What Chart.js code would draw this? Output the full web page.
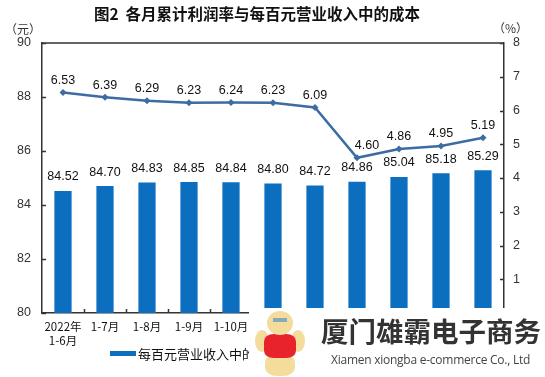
<!DOCTYPE html>
<html>
<head>
<meta charset="utf-8">
<script src="https://cdn.jsdelivr.net/npm/chart.js@4.4.1/dist/chart.umd.min.js"></script>
<style>
  html, body { margin: 0; padding: 0; background: #fff; }
  #wrap { position: relative; width: 545px; height: 377px; overflow: hidden; }
  #legend { position: absolute; left: 110px; top: 341px; font: 13px "Noto Sans CJK SC", sans-serif; color: #111; white-space: nowrap; }
  #legend .item { display: inline-flex; align-items: center; margin-right: 22px; }
  #legend .sw { display: inline-block; width: 26px; height: 5px; margin-right: 2px; }
  #mark { position: absolute; left: 249px; top: 308px; width: 296px; height: 69px; background: #fff; }
  #mark .cn { position: absolute; left: 72px; top: 2px; font: bold 27.5px "Noto Sans CJK SC", sans-serif; color: #333; white-space: nowrap; }
  #mark .en { position: absolute; left: 82px; top: 43px; font: 12px "Open Sans", sans-serif; letter-spacing: -0.25px; color: #444; white-space: nowrap; }
  .b { position: absolute; }
</style>
</head>
<body>
<div id="wrap">
  <canvas id="c" width="545" height="377"></canvas>
  <div id="legend"></div>
  <div id="mark">
    <div class="b" style="left:6px;top:22px;width:14px;height:22px;border-radius:50%;background:#f3dc9c;"></div>
    <div class="b" style="left:42px;top:22px;width:14px;height:22px;border-radius:50%;background:#f3dc9c;"></div>
    <div class="b" style="left:16px;top:46px;width:30px;height:22px;border-radius:40%;background:#f3dc9c;"></div>
    <div class="b" style="left:15px;top:26px;width:32px;height:24px;border-radius:30%;background:#e8232b;"></div>
    <div class="b" style="left:18px;top:3px;width:26px;height:24px;border-radius:50%;background:#f3dc9c;"></div>
    <div class="b" style="left:24px;top:10px;width:14px;height:4px;background:#8ab;"></div>
    <div class="cn">厦门雄霸电子商务</div>
    <div class="en">Xiamen xiongba e-commerce Co., Ltd</div>
  </div>
</div>
<script>
// months (cumulative periods)
const periods = [
  ['2022年', '1-6月'], '1-7月', '1-8月', '1-9月', '1-10月', '1-11月', '1-12月',
  ['2023年', '1-2月'], '1-3月', '1-4月', '1-5月'
];
// cost per 100 yuan of operating income (yuan)
const costPer100 = [84.52, 84.70, 84.83, 84.85, 84.84, 84.80, 84.72, 84.86, 85.04, 85.18, 85.29];
// cumulative operating income profit rate (%)
const profitRate = [6.53, 6.39, 6.29, 6.23, 6.24, 6.23, 6.09, 4.60, 4.86, 4.95, 5.19];

const titleText = '图2  各月累计利润率与每百元营业收入中的成本';
const leftUnit = '（元）';
const rightUnit = '（%）';
const seriesNames = ['每百元营业收入中的成本', '营业收入利润率（右轴）'];

const BAR_BLUE = '#0c6ebf';
const LINE_BLUE = '#3d6ca3';
const NUM_FONT = '12.5px "Liberation Sans", Arial, sans-serif';

// title, units, top frame line and inward tick marks
const decorations = {
  id: 'decorations',
  afterDraw(chart) {
    const { ctx, chartArea: a, scales } = chart;
    ctx.save();
    ctx.fillStyle = '#111';
    ctx.textBaseline = 'middle';
    ctx.textAlign = 'center';
    ctx.font = 'bold 15.5px "Noto Sans CJK SC", sans-serif';
    ctx.fillText(titleText, 257, 14);

    ctx.font = '12px "Noto Sans CJK SC", sans-serif';
    ctx.fillStyle = '#333';
    ctx.textAlign = 'left';
    ctx.fillText(leftUnit, 5, 29);
    ctx.fillText(rightUnit, 493, 28);

    ctx.strokeStyle = '#333';
    ctx.lineWidth = 1.5;
    ctx.beginPath();
    ctx.moveTo(a.left, a.top);
    ctx.lineTo(a.right, a.top);
    // left axis ticks
    scales.y.ticks.forEach(t => {
      const y = Math.round(scales.y.getPixelForValue(t.value)) + 0.5;
      ctx.moveTo(a.left, y); ctx.lineTo(a.left + 4, y);
    });
    // right axis ticks
    scales.y1.ticks.forEach(t => {
      const y = Math.round(scales.y1.getPixelForValue(t.value)) + 0.5;
      ctx.moveTo(a.right, y); ctx.lineTo(a.right - 4, y);
    });
    // category boundary ticks on x axis
    for (let i = 1; i < periods.length; i++) {
      const x = Math.round((scales.x.getPixelForValue(i - 1) + scales.x.getPixelForValue(i)) / 2) + 0.5;
      ctx.moveTo(x, a.bottom); ctx.lineTo(x, a.bottom - 4);
    }
    ctx.stroke();
    ctx.restore();
  }
};

// value labels above bars and points
const valueLabels = {
  id: 'valueLabels',
  afterDatasetsDraw(chart) {
    const ctx = chart.ctx;
    ctx.save();
    ctx.font = NUM_FONT;
    ctx.fillStyle = '#111';
    ctx.textAlign = 'center';
    ctx.textBaseline = 'middle';
    chart.data.datasets.forEach((ds, i) => {
      const meta = chart.getDatasetMeta(i);
      meta.data.forEach((el, j) => {
        let dx = 0;
        if (ds.type === 'line' && j > 0 && ds.data[j - 1] - ds.data[j] > 1) dx = 10;
        const dy = ds.type === 'bar' ? 14 : 12;
        ctx.fillText(ds.data[j].toFixed(2), el.x + dx, el.y - dy);
      });
    });
    ctx.restore();
  }
};

new Chart(document.getElementById('c'), {
  data: {
    labels: periods,
    datasets: [
      {
        type: 'bar',
        label: seriesNames[0],
        data: costPer100,
        yAxisID: 'y',
        backgroundColor: BAR_BLUE,
        barPercentage: 0.41,
        categoryPercentage: 1,
        order: 2
      },
      {
        type: 'line',
        label: seriesNames[1],
        data: profitRate,
        yAxisID: 'y1',
        borderColor: LINE_BLUE,
        backgroundColor: LINE_BLUE,
        borderWidth: 2.5,
        pointStyle: 'rectRot',
        pointRadius: 3.5,
        pointBorderWidth: 0,
        tension: 0,
        order: 1
      }
    ]
  },
  options: {
    responsive: false,
    animation: false,
    layout: { padding: { top: 43, bottom: 24, left: 0, right: 0 } },
    plugins: {
      legend: { display: false },
      tooltip: { enabled: false },
      title: { display: false }
    },
    scales: {
      x: {
        offset: true,
        grid: { drawOnChartArea: false, drawTicks: false },
        border: { display: true, color: '#333', width: 1.5 },
        ticks: {
          maxRotation: 0, autoSkip: false, padding: 7, color: '#111',
          font: { family: '"Noto Sans CJK SC", sans-serif', size: 11.5 }
        },
        afterFit(s) { s.height = 40; }
      },
      y: {
        position: 'left',
        min: 80, max: 90,
        grid: { drawOnChartArea: false, drawTicks: false },
        border: { display: true, color: '#333', width: 1.5 },
        ticks: { stepSize: 2, padding: 11, color: '#333', font: { family: '"Liberation Sans", Arial, sans-serif', size: 12.5 } },
        afterFit(s) { s.width = 42; }
      },
      y1: {
        position: 'right',
        min: 0, max: 8,
        grid: { drawOnChartArea: false, drawTicks: false },
        border: { display: true, color: '#333', width: 1.5 },
        ticks: {
          stepSize: 1, padding: 9, color: '#333',
          font: { family: '"Liberation Sans", Arial, sans-serif', size: 12.5 },
          callback: v => (v === 0 ? '' : v)
        },
        afterFit(s) { s.width = 41; }
      }
    }
  },
  plugins: [decorations, valueLabels]
});

// html legend from the series names
const legend = document.getElementById('legend');
[[seriesNames[0], BAR_BLUE], [seriesNames[1], LINE_BLUE]].forEach(([name, color]) => {
  const item = document.createElement('span');
  item.className = 'item';
  item.innerHTML = `<span class="sw" style="background:${color}"></span>${name}`;
  legend.appendChild(item);
});
</script>
</body>
</html>
